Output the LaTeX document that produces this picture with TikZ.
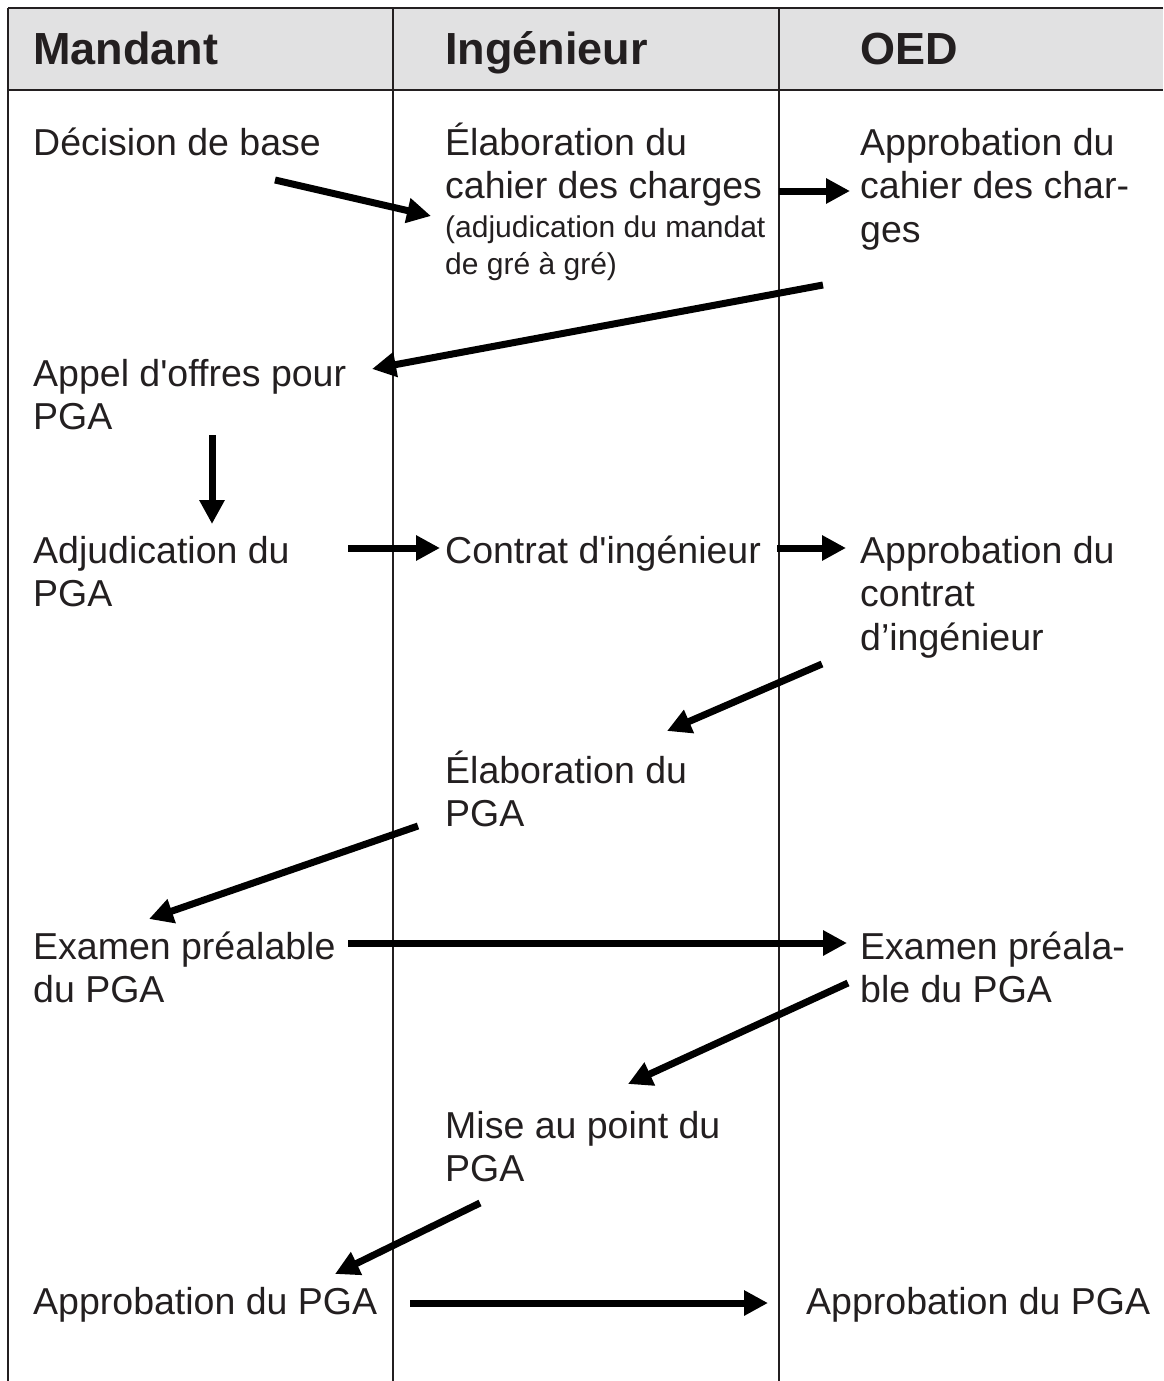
\documentclass[tikz,border=0pt]{standalone}
\usepackage{fontspec}
\setmainfont{Liberation Sans}[Ligatures=TeXOff]
\usetikzlibrary{positioning,arrows.meta}
\definecolor{pgaink}{HTML}{231F20}
\definecolor{pgaband}{HTML}{E1E1E2}
\tikzset{
    pgastep/.style={anchor=base west, inner sep=0pt, align=left, text=pgaink, font=\fontsize{37.5}{43.5}\selectfont},
    pganote/.style={pgastep, font=\fontsize{30}{37}\selectfont},
    pgatitle/.style={anchor=base west, inner sep=0pt, text=pgaink, font=\fontsize{45}{54}\selectfont\bfseries},
    pgaarrow/.style={draw=black, line width=7pt, -{Triangle[length=24pt, width=24pt]}},
    pgarule/.style={draw=pgaink, line width=1.2pt},
    pgaframe/.style={draw=pgaink, line width=2pt}
}

\begin{document}
\begin{tikzpicture}[x=1pt, y=-1pt]
    \useasboundingbox (0,0) rectangle (1163,1381);
    % header band and lanes
    \fill[pgaband] (8,8) rectangle (1163,90);
    \draw[pgaframe] (1163,8) -- (8,8);
    \draw[pgaframe] (8,90) -- (1163,90);
    \draw[pgarule] (8,8) -- (8,1381);
    \draw[pgarule] (393,8) -- (393,1381);
    \draw[pgarule] (779,8) -- (779,1381);
    \node[pgatitle] (mand) at (33,65) {Mandant};
    \node[pgatitle] (ing) at (445,65) {Ingénieur};
    \node[pgatitle] (oed) at (860,65) {OED};
    % steps (base = last line)
    \node[pgastep] (dec) at (33,155) {Décision de base};
    \node[pgastep] (elab) at (445,198.5) {Élaboration du\\cahier des charges};
    \node[pganote] (elabnote) at (445,274) {(adjudication du mandat\\de gré à gré)};
    \node[pgastep] (appcc) at (860,242) {Approbation du\\cahier des char-\\ges};
    \node[pgastep] (appel) at (33,429.5) {Appel d'offres pour\\PGA};
    \node[pgastep] (adj) at (33,606.5) {Adjudication du\\PGA};
    \node[pgastep] (contrat) at (445,563) {Contrat d'ingénieur};
    \node[pgastep] (appci) at (860,650) {Approbation du\\contrat\\d’ingénieur};
    \node[pgastep] (elabpga) at (445,826.5) {Élaboration du\\PGA};
    \node[pgastep] (exam) at (33,1002.5) {Examen préalable\\du PGA};
    \node[pgastep] (examoed) at (860,1002.5) {Examen préala-\\ble du PGA};
    \node[pgastep] (mise) at (445,1181.5) {Mise au point du\\PGA};
    \node[pgastep] (apppga) at (33,1314) {Approbation du PGA};
    \node[pgastep] (apppgaoed) at (806,1314) {Approbation du PGA};
    % arrow ends
    \coordinate (dec-out) at (275,180);
    \coordinate (elab-in) at (431,216);
    \coordinate (elab-out) at (779,191);
    \coordinate (appcc-in) at (850,191);
    \coordinate (appcc-out) at (823,285);
    \coordinate (appel-in) at (372,369);
    \coordinate (appel-out) at (212,435);
    \coordinate (adj-in) at (212,524);
    \coordinate (adj-out) at (348,548);
    \coordinate (contrat-in) at (440,548);
    \coordinate (contrat-out) at (777,548);
    \coordinate (appci-in) at (846,548);
    \coordinate (appci-out) at (822,664);
    \coordinate (elabpga-in) at (667,731);
    \coordinate (elabpga-out) at (418,826);
    \coordinate (exam-in) at (149,919);
    \coordinate (exam-out) at (348,943);
    \coordinate (examoed-in) at (847,943);
    \coordinate (examoed-out) at (848,983);
    \coordinate (mise-in) at (628,1084);
    \coordinate (mise-out) at (480,1203);
    \coordinate (apppga-in) at (335,1274);
    \coordinate (apppga-out) at (410,1303);
    \coordinate (apppgaoed-in) at (768,1303);
    % flow
    \draw[pgaarrow] (dec-out) -- (elab-in);
    \draw[pgaarrow] (elab-out) -- (appcc-in);
    \draw[pgaarrow] (appcc-out) -- (appel-in);
    \draw[pgaarrow] (appel-out) -- (adj-in);
    \draw[pgaarrow] (adj-out) -- (contrat-in);
    \draw[pgaarrow] (contrat-out) -- (appci-in);
    \draw[pgaarrow] (appci-out) -- (elabpga-in);
    \draw[pgaarrow] (elabpga-out) -- (exam-in);
    \draw[pgaarrow] (exam-out) -- (examoed-in);
    \draw[pgaarrow] (examoed-out) -- (mise-in);
    \draw[pgaarrow] (mise-out) -- (apppga-in);
    \draw[pgaarrow] (apppga-out) -- (apppgaoed-in);
\end{tikzpicture}
\end{document}
